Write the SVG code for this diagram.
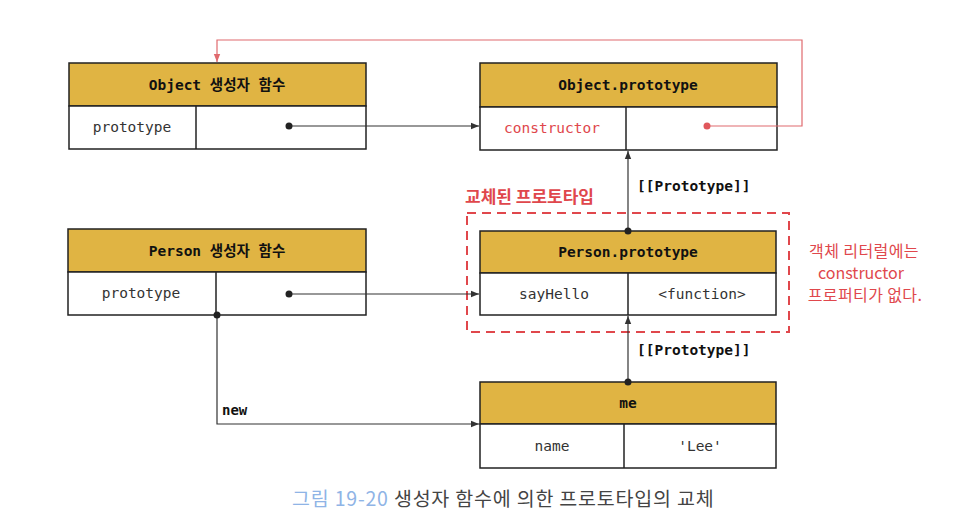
<svg xmlns="http://www.w3.org/2000/svg" width="976" height="532" viewBox="0 0 976 532">
<style>
.hd{fill:#e0b443;stroke:#222;stroke-width:1.5}
.rw{fill:#fff;stroke:#222;stroke-width:1.5}
.dv{stroke:#222;stroke-width:1.5}
.ht{font-family:"DejaVu Sans Mono","Noto Sans CJK KR",monospace;font-weight:bold;font-size:14.5px;fill:#111;text-anchor:middle}
.rt{font-family:"DejaVu Sans Mono","Noto Sans CJK KR",monospace;font-size:14.5px;fill:#333;text-anchor:middle}
.ln{fill:none;stroke:#333;stroke-width:1.2}
.rl{fill:none;stroke:#e06a6e;stroke-width:1.2}
.kr{font-family:"Noto Sans CJK KR","Noto Sans",sans-serif;fill:#e0474c}
</style>
<defs>
<marker id="ah" viewBox="0 0 10 10" refX="10" refY="5" markerWidth="8" markerHeight="8" orient="auto" markerUnits="userSpaceOnUse"><path d="M0,1 L10,5 L0,9 z" fill="#333"/></marker>
<marker id="ahr" viewBox="0 0 10 10" refX="10" refY="5" markerWidth="8" markerHeight="8" orient="auto" markerUnits="userSpaceOnUse"><path d="M0,1 L10,5 L0,9 z" fill="#e06a6e"/></marker>
</defs>

<g id="replaced">
<rect x="467" y="213" width="322" height="119" fill="none" stroke="#e0474c" stroke-width="2" stroke-dasharray="9,6"/>
<text x="465" y="203" class="kr" font-size="17" font-weight="bold">교체된 프로토타입</text>
<text x="864" y="257" class="kr" font-size="16" letter-spacing="0.4" text-anchor="middle">객체 리터럴에는</text>
<text x="861" y="279" class="kr" font-size="16" text-anchor="middle">constructor</text>
<text x="865" y="301" class="kr" font-size="16" letter-spacing="0.4" text-anchor="middle">프로퍼티가 없다.</text>
</g>

<g id="object-ctor">
<rect class="hd" x="69" y="63" width="297" height="43"/>
<rect class="rw" x="69" y="106" width="297" height="43"/>
<line class="dv" x1="196" y1="106" x2="196" y2="149"/>
<text x="217" y="90" class="ht">Object 생성자 함수</text>
<text x="132" y="132" class="rt">prototype</text>
</g>

<g id="object-prototype">
<rect class="hd" x="480" y="63" width="297" height="44"/>
<rect class="rw" x="480" y="107" width="297" height="43"/>
<line class="dv" x1="626" y1="107" x2="626" y2="150"/>
<text x="628" y="90" class="ht">Object.prototype</text>
<text x="552" y="133" class="rt" style="fill:#e0474c">constructor</text>
</g>

<g id="person-ctor">
<rect class="hd" x="68" y="229" width="298" height="43"/>
<rect class="rw" x="68" y="272" width="298" height="43"/>
<line class="dv" x1="216" y1="272" x2="216" y2="315"/>
<text x="217" y="256" class="ht">Person 생성자 함수</text>
<text x="141" y="298" class="rt">prototype</text>
</g>

<g id="person-prototype">
<rect class="hd" x="480" y="231" width="296" height="42"/>
<rect class="rw" x="480" y="273" width="296" height="42"/>
<line class="dv" x1="628" y1="273" x2="628" y2="315"/>
<text x="628" y="257" class="ht">Person.prototype</text>
<text x="554" y="299" class="rt">sayHello</text>
<text x="702" y="299" class="rt">&lt;function&gt;</text>
</g>

<g id="me">
<rect class="hd" x="480" y="382" width="296" height="42"/>
<rect class="rw" x="480" y="424" width="296" height="44"/>
<line class="dv" x1="624" y1="424" x2="624" y2="468"/>
<text x="628" y="408" class="ht">me</text>
<text x="552" y="451" class="rt">name</text>
<text x="700" y="451" class="rt">'Lee'</text>
</g>

<g id="connectors">
<path class="rl" d="M707,126 H802 V40 H217 V62" marker-end="url(#ahr)"/>
<circle cx="707" cy="126" r="3.5" fill="#e0575c"/>
<path class="ln" d="M289,126 H479" marker-end="url(#ah)"/>
<circle cx="289" cy="126" r="3.5" fill="#222"/>
<path class="ln" d="M289,294 H479" marker-end="url(#ah)"/>
<circle cx="289" cy="294" r="3.5" fill="#222"/>
<path class="ln" d="M628,231 V151" marker-end="url(#ah)"/>
<circle cx="628" cy="231" r="3.5" fill="#222"/>
<path class="ln" d="M628,382 V316" marker-end="url(#ah)"/>
<circle cx="628" cy="382" r="3.5" fill="#222"/>
<path class="ln" d="M217,315 V424 H479" marker-end="url(#ah)"/>
<circle cx="217" cy="315" r="3.5" fill="#222"/>
<text x="637" y="191" class="ht" style="text-anchor:start">[[Prototype]]</text>
<text x="637" y="355" class="ht" style="text-anchor:start">[[Prototype]]</text>
<text x="222" y="415" class="ht" style="text-anchor:start;font-size:14px">new</text>
</g>

<g id="caption">
<text x="292" y="506" font-family="'Noto Sans CJK KR','Noto Sans',sans-serif" font-size="19.5" letter-spacing="0.8" fill="#444"><tspan fill="#8fb4e6">그림 19-20</tspan> 생성자 함수에 의한 프로토타입의 교체</text>
</g>
</svg>
